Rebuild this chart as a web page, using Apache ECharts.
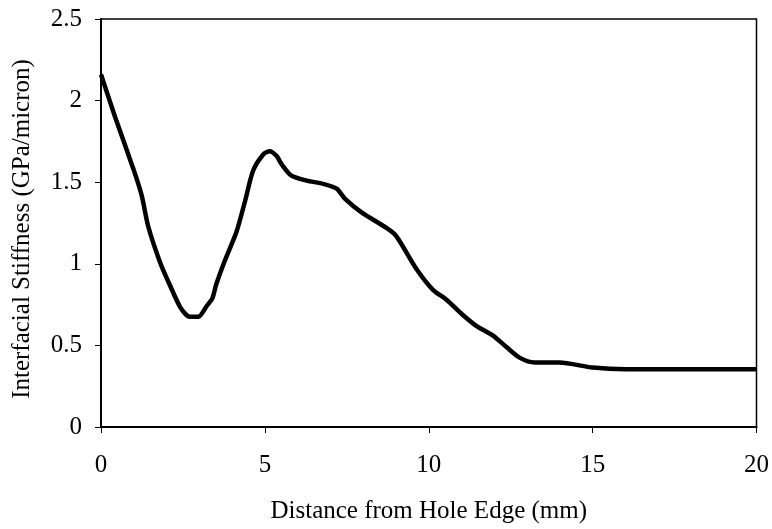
<!DOCTYPE html>
<html>
<head>
<meta charset="utf-8">
<script src="https://cdn.jsdelivr.net/npm/echarts@6/dist/echarts.min.js"></script>
<style>
html,body{margin:0;padding:0;background:#fff;}
#chart{width:772px;height:529px;}
</style>
</head>
<body>
<div id="chart"></div>
<script>
var distance = [0, 0.43, 0.99, 1.24, 1.44, 1.80, 2.10, 2.43, 2.71, 2.97, 3.22, 3.40, 3.51, 3.78, 4.14, 4.39, 4.64, 4.95, 5.15, 5.36, 5.51, 5.81, 6.27, 6.78, 7.19, 7.44, 7.95, 8.71, 9.01, 9.62, 10.13, 10.54, 11.05, 11.45, 11.96, 12.37, 12.77, 13.23, 13.99, 15.0, 16.03, 20];
var stiffness = [2.16, 1.90, 1.58, 1.42, 1.23, 1.01, 0.87, 0.73, 0.675, 0.675, 0.74, 0.79, 0.87, 1.02, 1.20, 1.38, 1.57, 1.67, 1.69, 1.66, 1.61, 1.54, 1.51, 1.49, 1.46, 1.40, 1.315, 1.22, 1.17, 0.97, 0.84, 0.78, 0.685, 0.62, 0.56, 0.49, 0.425, 0.395, 0.395, 0.364, 0.354, 0.354];
var xTitle = 'Distance from Hole Edge (mm)';
var yTitle = 'Interfacial Stiffness (GPa/micron)';

var pts = distance.map(function (d, i) { return [d, stiffness[i]]; });
var font = '"Liberation Serif", "Times New Roman", serif';
var chart = echarts.init(document.getElementById('chart'));
chart.setOption({
  animation: false,
  backgroundColor: '#fff',
  grid: { left: 101, right: 15, top: 19, bottom: 100, show: true, borderColor: '#000', borderWidth: 1.5, backgroundColor: 'transparent' },
  xAxis: {
    type: 'value', min: 0, max: 20, interval: 5,
    name: xTitle, nameLocation: 'middle', nameGap: 72,
    nameTextStyle: { fontFamily: font, fontSize: 25, color: '#000' },
    axisLine: { show: true, onZero: false, lineStyle: { color: '#000', width: 2 } },
    axisTick: { show: true, inside: false, length: 6, lineStyle: { color: '#000', width: 1 } },
    axisLabel: { fontFamily: font, fontSize: 25, color: '#000', margin: 26 },
    splitLine: { show: false }
  },
  yAxis: {
    type: 'value', min: 0, max: 2.5, interval: 0.5,
    name: yTitle, nameLocation: 'middle', nameGap: 66,
    nameTextStyle: { fontFamily: font, fontSize: 25, color: '#000', padding: [0, 12, 0, 0] },
    axisLine: { show: true, lineStyle: { color: '#000', width: 2 } },
    axisTick: { show: true, inside: false, length: 6, lineStyle: { color: '#000', width: 1 } },
    axisLabel: { fontFamily: font, fontSize: 25, color: '#000', margin: 19 },
    splitLine: { show: false }
  },
  series: [{
    type: 'line', data: pts, showSymbol: false, smooth: 0.25,
    lineStyle: { color: '#000', width: 4.5 }
  }]
});
</script>
</body>
</html>
